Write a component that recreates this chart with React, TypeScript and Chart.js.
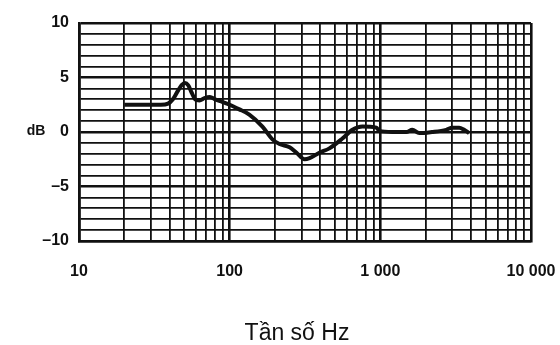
import React, { useEffect, useRef } from "react";
import { Chart, registerables } from "chart.js";

Chart.register(...registerables);

const freqHz = [20, 25, 30, 35, 39, 42, 45, 48, 50.5, 53, 56, 59, 63, 68, 74, 80, 88, 100, 115, 135, 165, 193, 214, 250, 278, 314, 339, 394, 459, 560, 653, 760, 942, 984, 1200, 1486, 1629, 1811, 2200, 2735, 3000, 3337, 3600, 3883];
const levelDb = [2.5, 2.5, 2.5, 2.5, 2.6, 3.0, 3.7, 4.3, 4.5, 4.3, 3.6, 3.0, 2.9, 3.1, 3.2, 3.0, 2.8, 2.5, 2.1, 1.6, 0.5, -0.7, -1.1, -1.4, -1.9, -2.5, -2.4, -1.9, -1.5, -0.6, 0.2, 0.5, 0.4, 0.1, 0.0, 0.0, 0.2, -0.1, 0.0, 0.2, 0.4, 0.4, 0.2, -0.1];

const xGridValues = [10, 20, 30, 40, 50, 60, 70, 80, 90, 100, 200, 300, 400, 500, 600, 700, 800, 900, 1000, 2000, 3000, 4000, 5000, 6000, 7000, 8000, 9000, 10000];
const xLabelValues = [10, 100, 1000, 10000];
const xLabelTexts = ["10", "100", "1 000", "10 000"];
const yLabelValues = [10, 5, 0, -5, -10];
const yLabelTexts = ["10", "5", "0", "\u20135", "\u201310"];
const yUnit = "dB";
const xTitle = "T\u1ea7n s\u1ed1 Hz";

const textPlugin = {
  id: "extraText",
  afterDraw(chart: any) {
    const ctx = chart.ctx;
    ctx.save();
    ctx.fillStyle = "#111";
    ctx.textAlign = "center";
    ctx.textBaseline = "middle";
    ctx.font = 'bold 14px "Liberation Sans", Arial, sans-serif';
    ctx.fillText(yUnit, 36, 131);
    ctx.font = '23px "Liberation Sans", Arial, sans-serif';
    ctx.fillText(xTitle, 297, 334);
    ctx.restore();
  },
};

export default function App() {
  const ref = useRef<HTMLCanvasElement | null>(null);
  useEffect(() => {
    if (!ref.current) return;
    const tickFont = { family: '"Liberation Sans", Arial, sans-serif', size: 16, weight: "bold" as const };
    const chart = new Chart(ref.current, {
      type: "line",
      data: {
        datasets: [
          {
            data: freqHz.map((f, i) => ({ x: f, y: levelDb[i] })),
            borderColor: "#111",
            borderWidth: 4,
            pointRadius: 0,
            cubicInterpolationMode: "monotone",
            fill: false,
          },
        ],
      },
      options: {
        animation: false,
        responsive: false,
        devicePixelRatio: 1,
        layout: { padding: { top: 23, right: 29, left: 0, bottom: 0 } },
        plugins: { legend: { display: false }, tooltip: { enabled: false } },
        scales: {
          x: {
            type: "logarithmic",
            min: 10,
            max: 10000,
            afterBuildTicks: (scale: any) => {
              scale.ticks = xGridValues.map((v) => ({ value: v }));
            },
            afterFit: (scale: any) => {
              scale.height = 104;
              scale.paddingLeft = 0;
              scale.paddingRight = 0;
            },
            grid: {
              color: "#111",
              lineWidth: (c: any) => (c.tick && xLabelValues.includes(c.tick.value) ? 2.6 : 1.8),
              drawTicks: false,
            },
            border: { display: true, color: "#111", width: 2.6 },
            ticks: {
              autoSkip: false,
              maxRotation: 0,
              padding: 21,
              color: "#111",
              font: tickFont,
              callback: (v: any) => {
                const i = xLabelValues.indexOf(Number(v));
                return i >= 0 ? xLabelTexts[i] : "";
              },
            },
          },
          y: {
            type: "linear",
            min: -10,
            max: 10,
            afterFit: (scale: any) => {
              scale.width = 79;
              scale.paddingTop = 0;
              scale.paddingBottom = 0;
            },
            grid: {
              color: "#111",
              lineWidth: (c: any) => (c.tick && c.tick.value % 5 === 0 ? 2.6 : 1.8),
              drawTicks: false,
            },
            border: { display: true, color: "#111", width: 2.6 },
            ticks: {
              stepSize: 1,
              autoSkip: false,
              padding: 10,
              color: "#111",
              font: tickFont,
              callback: (v: any) => {
                const i = yLabelValues.indexOf(Number(v));
                return i >= 0 ? yLabelTexts[i] : "";
              },
            },
          },
        },
      },
      plugins: [textPlugin],
    });
    return () => chart.destroy();
  }, []);
  return (
    <div style={{ position: "absolute", left: 0, top: 0, width: 560, height: 345, background: "#fff" }}>
      <canvas ref={ref} width={560} height={345} />
    </div>
  );
}
